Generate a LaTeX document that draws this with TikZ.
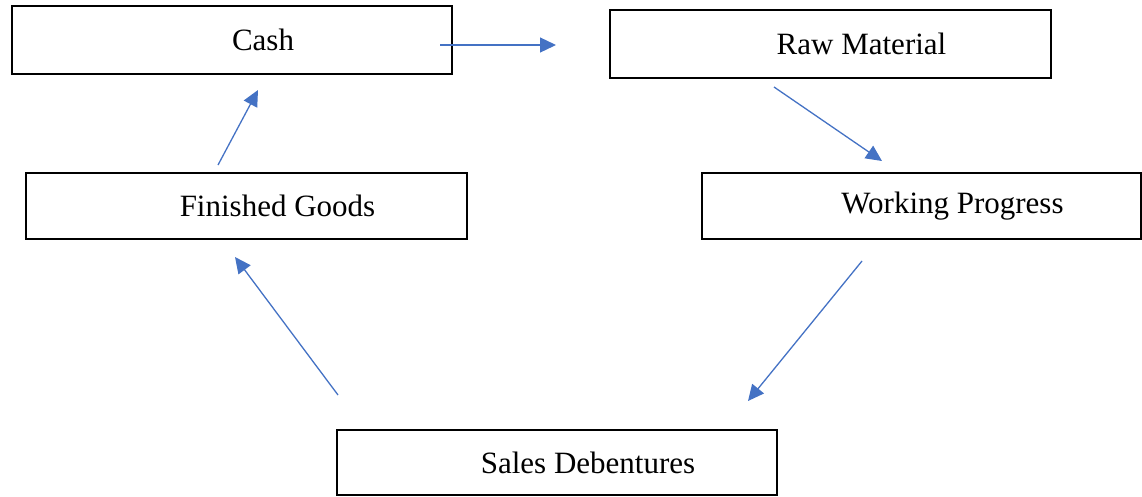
\documentclass[tikz,border=0pt]{standalone}
\usepackage{fontspec}
\setmainfont{Liberation Serif}
\usetikzlibrary{arrows.meta}
\definecolor{flowblue}{HTML}{4472C4}
\begin{document}
\begin{tikzpicture}[x=1pt,y=-1pt,
  stagebox/.style={draw=black, line width=2.3pt, rectangle, inner sep=0pt,
    font=\fontsize{31}{36}\selectfont},
  flow/.style={draw=flowblue, line width=1.3pt,
    -{Triangle[length=16pt,width=15pt]}, color=flowblue}]
\useasboundingbox (0,0) rectangle (1142,496);

\node[stagebox, minimum width=440pt, minimum height=68pt] (cash) at (232,40) {\hspace*{62pt}Cash};
\node[stagebox, minimum width=441pt, minimum height=68pt] (raw) at (830.5,44) {\hspace*{62pt}Raw Material};
\node[stagebox, minimum width=441pt, minimum height=66pt] (fin) at (246.5,206) {\hspace*{62pt}Finished Goods};
\node[stagebox, minimum width=439pt, minimum height=66pt] (work) at (921.5,206) {\hspace*{62pt}Working Progress};
\node[stagebox, minimum width=440pt, minimum height=65pt] (sales) at (557,462.5) {\hspace*{62pt}Sales Debentures};

% free ends of the flow arrows
\coordinate (a1s) at (440,45);  \coordinate (a1e) at (556,45);
\coordinate (a2s) at (774,87);  \coordinate (a2e) at (882,161);
\coordinate (a3s) at (862,261); \coordinate (a3e) at (748,401);
\coordinate (a4s) at (338,395); \coordinate (a4e) at (235,257);
\coordinate (a5s) at (218,165); \coordinate (a5e) at (258,90);

\draw[flow] (a1s) -- (a1e);
\draw[flow] (a2s) -- (a2e);
\draw[flow] (a3s) -- (a3e);
\draw[flow] (a4s) -- (a4e);
\draw[flow] (a5s) -- (a5e);
\end{tikzpicture}
\end{document}
